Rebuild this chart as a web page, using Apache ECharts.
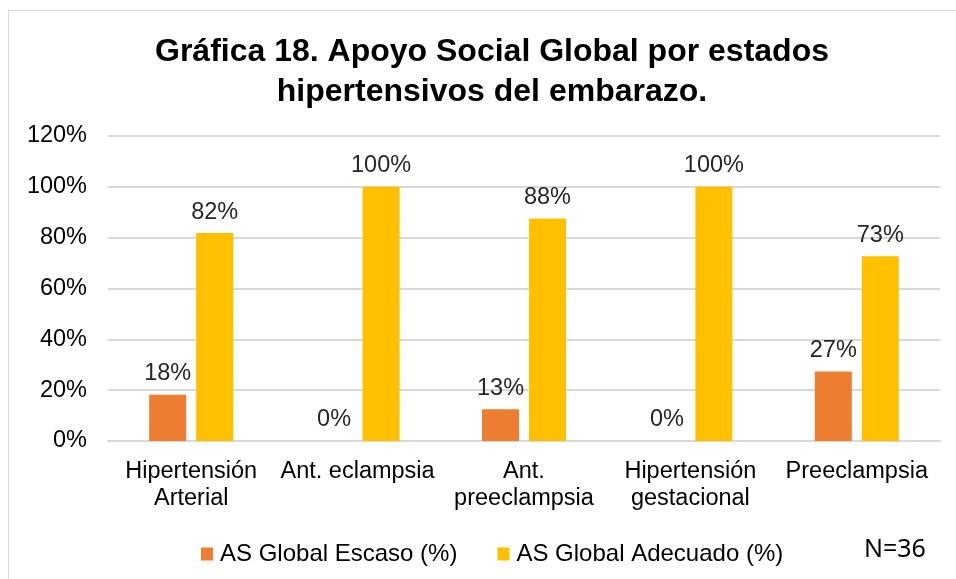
<!DOCTYPE html>
<html>
<head>
<meta charset="utf-8">
<script src="https://cdn.jsdelivr.net/npm/echarts@6/dist/echarts.min.js"></script>
<style>
  html, body { margin: 0; padding: 0; background: #fff; }
  #chart { width: 956px; height: 579px; position: relative; }
  #frame { position: absolute; left: 8px; top: 10px; width: 960px; height: 600px;
           border: 1.5px solid #d9d9d9; box-sizing: border-box; pointer-events: none; }
</style>
</head>
<body>
<div style="position:relative">
  <div id="chart"></div>
  <div id="frame"></div>
</div>
<script>
// categorías y valores
const categories = ['Hipertensión\nArterial', 'Ant. eclampsia', 'Ant.\npreeclampsia', 'Hipertensión\ngestacional', 'Preeclampsia']
const escaso = [18.2, 0, 12.5, 0, 27.3]
const adecuado = [81.8, 100, 87.5, 100, 72.7]
const yTicks = [0, 20, 40, 60, 80, 100, 120]

const font = '"Liberation Sans", Arial, sans-serif'
const chart = echarts.init(document.getElementById('chart'))

const labelStyle = {
  show: true,
  position: 'top',
  distance: 9,
  fontFamily: font,
  fontSize: 23.5,
  color: '#262626',
  formatter: (p) => Math.round(p.value) + '%',
}

chart.setOption({
  animation: false,
  title: {
    text: 'Gráfica 18. Apoyo Social Global por estados\nhipertensivos del embarazo.',
    left: 487,
    top: 27,
    textAlign: 'center',
    textStyle: { fontFamily: font, fontSize: 32, fontWeight: 'bold', color: '#000', lineHeight: 40 },
  },
  grid: { left: 108, right: 16, top: 136, bottom: 138 },
  legend: {
    data: ['AS Global Escaso (%)', 'AS Global Adecuado (%)'],
    left: 196,
    top: 537,
    itemWidth: 12,
    itemHeight: 13,
    itemGap: 40,
    icon: 'rect',
    textStyle: { fontFamily: font, fontSize: 24, color: '#000', padding: [0, 0, 0, 2] },
  },
  xAxis: {
    type: 'category',
    data: categories,
    axisLine: { lineStyle: { color: '#d9d9d9', width: 2 } },
    axisTick: { show: false },
    axisLabel: { fontFamily: font, fontSize: 23.5, color: '#000', lineHeight: 27, margin: 17, interval: 0 },
  },
  yAxis: {
    type: 'value',
    min: yTicks[0],
    max: yTicks[yTicks.length - 1],
    interval: 20,
    axisLine: { show: false },
    axisTick: { show: false },
    splitLine: { lineStyle: { color: '#d9d9d9', width: 2 } },
    axisLabel: { fontFamily: font, fontSize: 23.5, color: '#000', margin: 21, formatter: '{value}%' },
  },
  series: [
    {
      name: 'AS Global Escaso (%)',
      type: 'bar',
      data: escaso,
      barWidth: 37,
      barGap: '27%',
      itemStyle: { color: '#ed7d31' },
      label: labelStyle,
    },
    {
      name: 'AS Global Adecuado (%)',
      type: 'bar',
      data: adecuado,
      barWidth: 37,
      itemStyle: { color: '#ffc000' },
      label: labelStyle,
    },
  ],
  graphic: [
    {
      type: 'text',
      left: 864,
      top: 537,
      style: { text: 'N=36', font: '25px "Noto Sans", sans-serif', fill: '#000' },
    },
  ],
})
</script>
</body>
</html>
